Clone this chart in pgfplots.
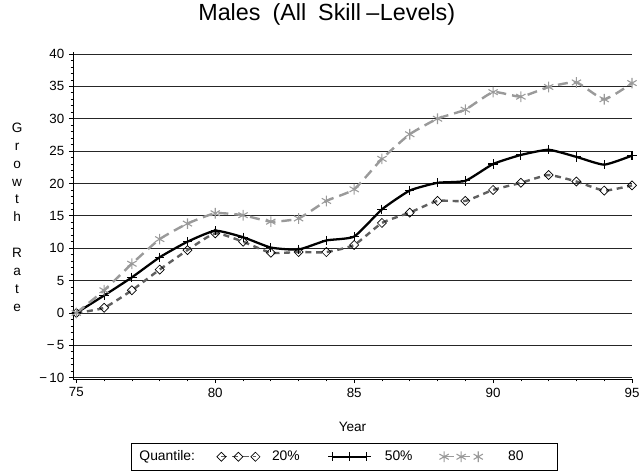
\documentclass[border=0pt]{standalone}
\usepackage{fontspec}
\setmainfont{Liberation Sans}
\usepackage{pgfplots}
\pgfplotsset{compat=1.18}
\usepackage{pgfplotstable}

% growth rate by year, quantiles 20 / 50 / 80
\pgfplotstableread{
year q20  q50  q80
75   0    0    0
76   0.8  2.7  3.5
77   3.5  5.5  7.6
78   6.7  8.6  11.4
79   9.7  11.0 13.8
80   12.3 12.7 15.4
81   11.0 11.7 15.1
82   9.3  10.1 14.1
83   9.4  9.8  14.6
84   9.4  11.2 17.3
85   10.5 11.8 19.1
86   13.9 16.0 23.8
87   15.5 18.9 27.6
88   17.3 20.1 30.0
89   17.3 20.4 31.4
90   19.0 23.0 34.1
91   20.1 24.4 33.4
92   21.3 25.2 34.9
93   20.3 24.1 35.6
94   18.9 22.9 33.0
95   19.7 24.3 35.5
}\growth

\definecolor{darkq}{HTML}{606060}
\definecolor{lightq}{HTML}{9A9A9A}

\pgfplotsset{
  threemarks/.style={legend image code/.code={%
    \draw[##1, line width=#1] plot coordinates {(0cm,0cm) (0.45cm,0cm) (0.9cm,0cm)};}},
}

\begin{document}
\begin{tikzpicture}
\useasboundingbox (-54.75pt,-69.75pt) rectangle (427.5pt,284.25pt);
\begin{axis}[
  at={(0,0)}, anchor=south west,
  scale only axis, width=419.25pt, height=245.25pt,
  xmin=74.88, xmax=95, ymin=-10.2, ymax=40.3,
  axis x line=bottom, axis y line=left,
  axis line style={-, line width=0.6pt},
  clip=false,
  xtick={75,80,...,95}, minor x tick num=4,
  ytick={-10,-5,...,40},
  yticklabels={−\,10,−\,5,0,5,10,15,20,25,30,35,40},
  minor y tick num=4,
  tick align=outside, major tick length=3pt, minor tick length=1.8pt,
  tick style={black, line width=0.5pt},
  /pgf/number format/assume math mode=true,
  tick label style={font=\fontsize{10}{12}\selectfont},
  ymajorgrids, major grid style={black!85, line width=0.6pt},
  xlabel={Year},
  xlabel style={at={(axis description cs:0.5,-0.147)}, anchor=center,
    font=\fontsize{10.2}{12}\selectfont},
  ylabel={G\\r\\o\\w\\t\\h\\\mbox{}\\R\\a\\t\\e},
  ylabel style={rotate=-90, align=center, at={(axis description cs:-0.1,0.495)},
    anchor=center, font=\fontsize{10.2}{13.4}\selectfont},
  legend columns=-1,
  legend style={at={(axis description cs:0.4857,-0.1957)}, anchor=north,
    draw=black, line width=0.6pt, font=\fontsize{10.4}{12}\selectfont,
    inner xsep=3pt, inner ysep=3.5pt,
    /tikz/every odd column/.append style={column sep=7pt},
    /tikz/every even column/.append style={column sep=0pt}},
]
\addlegendimage{empty legend}
\addlegendentry{\makebox[50pt][l]{\hspace*{-6pt}Quantile:}}

\addplot[darkq, line width=1.8pt, dash pattern=on 4.5pt off 3.5pt, smooth, tension=0.3,
  mark=square, mark size=2.4pt,
  mark options={solid, black, line width=0.5pt, rotate=45},
  threemarks=0.8pt]
  table[x=year, y=q20] {\growth};
\addlegendentry{\makebox[40pt][l]{20\%}}

\addplot[black, line width=1.7pt, smooth, tension=0.3,
  mark=+, mark size=3.5pt, mark options={solid, black, line width=0.8pt},
  threemarks=1.2pt]
  table[x=year, y=q50] {\growth};
\addlegendentry{\makebox[40pt][l]{\hspace*{1pt}50\%}}

\addplot[lightq, line width=1.8pt, dash pattern=on 7.5pt off 4.5pt, smooth, tension=0.3,
  mark=asterisk, mark size=4pt, mark options={solid, lightq, line width=0.8pt},
  threemarks=0.8pt]
  table[x=year, y=q80] {\growth};
\addlegendentry{\makebox[42pt][l]{\hspace*{10pt}80}}

\node[anchor=base, font=\fontsize{17.5}{20}\selectfont]
  at (axis description cs:0.454,1.096)
  {Males\hspace{9pt}(All\hspace{9pt}Skill\hspace{4pt}–\hspace{0.5pt}Levels)};
\end{axis}
\end{tikzpicture}
\end{document}
